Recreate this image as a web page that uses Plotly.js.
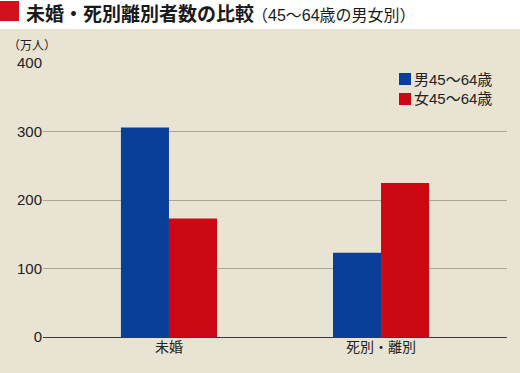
<!DOCTYPE html>
<html>
<head>
<meta charset="utf-8">
<script src="https://cdn.plot.ly/plotly-3.0.1.min.js"></script>
<style>html,body{margin:0;padding:0;background:#e8e3d3;}</style>
</head>
<body>
<div id="chart" style="width:520px;height:373px;"></div>
<script>
const categories = ['未婚', '死別・離別'];
const maleValues = [306, 123];
const femaleValues = [173, 225];
const seriesNames = ['男45〜64歳', '女45〜64歳'];
const yTicks = [0, 100, 200, 300, 400];
const titleMain = '未婚・死別離別者数の比較';
const titleSub = '（45〜64歳の男女別）';

const W = 520, H = 373;
const M = {l: 43, r: 13, t: 63, b: 36};
const pw = W - M.l - M.r, ph = H - M.t - M.b;
const px = x => (x - M.l) / pw;
const py = y => (H - M.b - y) / ph;

const blue = '#0a3f99';
const red = '#cc0812';
const font = '"Liberation Sans", "Noto Sans CJK JP", sans-serif';
const cjk = '"Noto Sans CJK JP", "Noto Sans", sans-serif';

const data = [
  {type: 'bar', x: categories, y: maleValues, name: seriesNames[0], marker: {color: blue}, hoverinfo: 'none'},
  {type: 'bar', x: categories, y: femaleValues, name: seriesNames[1], marker: {color: red}, hoverinfo: 'none'}
];

const layout = {
  width: W, height: H,
  margin: M,
  paper_bgcolor: '#e8e3d3',
  plot_bgcolor: '#e8e3d3',
  font: {family: font, size: 14, color: '#222'},
  barmode: 'group',
  bargap: 0.547,
  bargroupgap: 0,
  showlegend: false,
  title: {
    text: '<b>' + titleMain + '</b>',
    font: {family: cjk, size: 19, color: '#1a1a1a'},
    x: 26 / W, xanchor: 'left', xref: 'container',
    y: 1 - 14 / H, yanchor: 'middle', yref: 'container'
  },
  xaxis: {
    type: 'category',
    range: [-0.594, 1.594],
    showgrid: false,
    showline: false,
    ticks: '',
    tickfont: {family: cjk, size: 14, color: '#222'},
    fixedrange: true
  },
  yaxis: {
    range: [0, 400],
    tickvals: yTicks,
    showgrid: true,
    gridcolor: '#aaa696',
    gridwidth: 1,
    zeroline: true,
    zerolinecolor: '#3a3a3a',
    zerolinewidth: 1,
    showline: false,
    ticks: '',
    tickfont: {size: 15, color: '#222'},
    fixedrange: true
  },
  shapes: [
    {type: 'rect', xref: 'paper', yref: 'paper', x0: px(0), x1: px(W), y0: py(29), y1: py(0), fillcolor: '#ffffff', line: {width: 0}, layer: 'below'},
    {type: 'rect', xref: 'paper', yref: 'paper', x0: px(0), x1: px(19), y0: py(21), y1: py(1), fillcolor: '#d0101a', line: {width: 0}},
    {type: 'rect', xref: 'paper', yref: 'paper', x0: px(399), x1: px(411), y0: py(85), y1: py(73), fillcolor: blue, line: {width: 0}},
    {type: 'rect', xref: 'paper', yref: 'paper', x0: px(399), x1: px(411), y0: py(105), y1: py(93), fillcolor: red, line: {width: 0}}
  ],
  annotations: [
    {text: titleSub, xref: 'paper', yref: 'paper', x: px(250), y: py(15), xanchor: 'left', yanchor: 'middle', showarrow: false, font: {size: 16, color: '#1a1a1a'}},
    {text: '（万人）', xref: 'paper', yref: 'paper', x: px(6), y: py(45), xanchor: 'left', yanchor: 'middle', showarrow: false, font: {family: cjk, size: 12, color: '#222'}},
    {text: seriesNames[0], xref: 'paper', yref: 'paper', x: px(412), y: py(79), xanchor: 'left', yanchor: 'middle', showarrow: false, font: {size: 15, color: '#222'}},
    {text: seriesNames[1], xref: 'paper', yref: 'paper', x: px(412), y: py(99), xanchor: 'left', yanchor: 'middle', showarrow: false, font: {size: 15, color: '#222'}}
  ]
};

Plotly.newPlot('chart', data, layout, {displayModeBar: false, staticPlot: true});
</script>
</body>
</html>
